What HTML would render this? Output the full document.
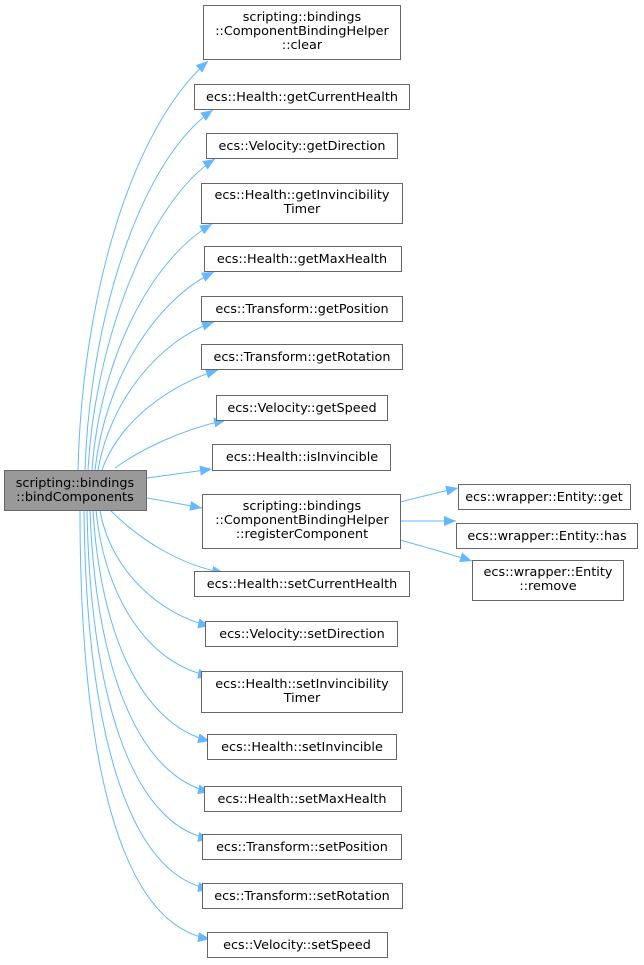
<!DOCTYPE html>
<html><head><meta charset="utf-8"><style>
html,body{margin:0;padding:0;background:#fff;}
svg{display:block;}
text{font-family:"DejaVu Sans","Liberation Sans",sans-serif;font-size:12.8px;fill:#000;text-anchor:middle;}
.b{fill:#fff;stroke:#666;stroke-width:1;}
.e{fill:none;stroke:#63b8ff;stroke-width:1;marker-end:url(#a);}
</style></head><body>
<svg width="644" height="965" viewBox="0 0 644 965" xmlns="http://www.w3.org/2000/svg">
<defs><marker id="a" markerWidth="13" markerHeight="10" refX="12" refY="5" orient="auto" markerUnits="userSpaceOnUse"><path d="M0,0 L12,5 L0,10 z" fill="#63b8ff"/></marker></defs>

<path class="e" d="M78,470 C82,300 130,130 208,61"/>
<path class="e" d="M85,470 C90,320 140,160 213,110"/>
<path class="e" d="M88,470 C95,340 150,200 215,159"/>
<path class="e" d="M92,470 C100,360 150,260 212,224"/>
<path class="e" d="M95,470 C105,380 155,300 214,272"/>
<path class="e" d="M98,470 C110,400 160,340 214,322"/>
<path class="e" d="M102,470 C120,420 170,385 218,370"/>
<path class="e" d="M115,468 C140,450 180,430 226,420"/>
<path class="e" d="M147,478 C170,475 190,472 212,469"/>
<path class="e" d="M147,498 C165,501 185,505 202,508"/>
<path class="e" d="M400,502 C420,497 440,492 458,488"/>
<path class="e" d="M400,521 L456,521"/>
<path class="e" d="M400,540 C425,547 450,554 472,561"/>
<path class="e" d="M110,510 C140,540 180,565 224,573"/>
<path class="e" d="M100,510 C110,570 160,615 210,626"/>
<path class="e" d="M96,510 C105,600 150,665 210,676"/>
<path class="e" d="M93,510 C100,630 140,725 210,741"/>
<path class="e" d="M90,510 C95,660 135,775 210,792"/>
<path class="e" d="M87,510 C90,690 130,825 210,839"/>
<path class="e" d="M84,510 C86,720 125,875 210,889"/>
<path class="e" d="M80,510 C80,760 120,925 210,939"/>

<rect x="4.5" y="470.5" width="142" height="40" fill="#999" stroke="#666"/>
<text x="75" y="487">scripting::bindings</text>
<text x="75" y="501">::bindComponents</text>

<rect class="b" x="203.5" y="5.5" width="197" height="54"/>
<text x="302" y="21">scripting::bindings</text>
<text x="302" y="35">::ComponentBindingHelper</text>
<text x="302" y="49">::clear</text>

<rect class="b" x="194.5" y="84.5" width="215" height="25"/>
<text x="302" y="101">ecs::Health::getCurrentHealth</text>
<rect class="b" x="206.5" y="133.5" width="191" height="25"/>
<text x="302" y="150">ecs::Velocity::getDirection</text>
<rect class="b" x="201.5" y="183.5" width="201" height="40"/>
<text x="302" y="199">ecs::Health::getInvincibility</text>
<text x="302" y="213">Timer</text>
<rect class="b" x="204.5" y="246.5" width="197" height="25"/>
<text x="302" y="263">ecs::Health::getMaxHealth</text>
<rect class="b" x="201.5" y="296.5" width="201" height="25"/>
<text x="302" y="313">ecs::Transform::getPosition</text>
<rect class="b" x="201.5" y="344.5" width="201" height="25"/>
<text x="302" y="361">ecs::Transform::getRotation</text>
<rect class="b" x="216.5" y="395.5" width="171" height="25"/>
<text x="302" y="412">ecs::Velocity::getSpeed</text>
<rect class="b" x="212.5" y="444.5" width="178" height="26"/>
<text x="302" y="461">ecs::Health::isInvincible</text>

<rect class="b" x="202.5" y="494.5" width="198" height="54"/>
<text x="302" y="510">scripting::bindings</text>
<text x="302" y="524">::ComponentBindingHelper</text>
<text x="302" y="538">::registerComponent</text>

<rect class="b" x="194.5" y="571.5" width="215" height="25"/>
<text x="302" y="588">ecs::Health::setCurrentHealth</text>
<rect class="b" x="205.5" y="621.5" width="192" height="25"/>
<text x="302" y="638">ecs::Velocity::setDirection</text>
<rect class="b" x="201.5" y="671.5" width="201" height="41"/>
<text x="302" y="688">ecs::Health::setInvincibility</text>
<text x="302" y="702">Timer</text>
<rect class="b" x="207.5" y="734.5" width="189" height="25"/>
<text x="302" y="751">ecs::Health::setInvincible</text>
<rect class="b" x="204.5" y="786.5" width="197" height="25"/>
<text x="302" y="803">ecs::Health::setMaxHealth</text>
<rect class="b" x="202.5" y="834.5" width="199" height="25"/>
<text x="302" y="851">ecs::Transform::setPosition</text>
<rect class="b" x="202.5" y="883.5" width="200" height="25"/>
<text x="302" y="900">ecs::Transform::setRotation</text>
<rect class="b" x="207.5" y="932.5" width="180" height="25"/>
<text x="297" y="949">ecs::Velocity::setSpeed</text>

<rect class="b" x="458.5" y="484.5" width="172" height="25"/>
<text x="544" y="501">ecs::wrapper::Entity::get</text>
<rect class="b" x="456.5" y="523.5" width="181" height="25"/>
<text x="547" y="540">ecs::wrapper::Entity::has</text>
<rect class="b" x="472.5" y="560.5" width="151" height="40"/>
<text x="548" y="576">ecs::wrapper::Entity</text>
<text x="548" y="590">::remove</text>
</svg>
</body></html>
